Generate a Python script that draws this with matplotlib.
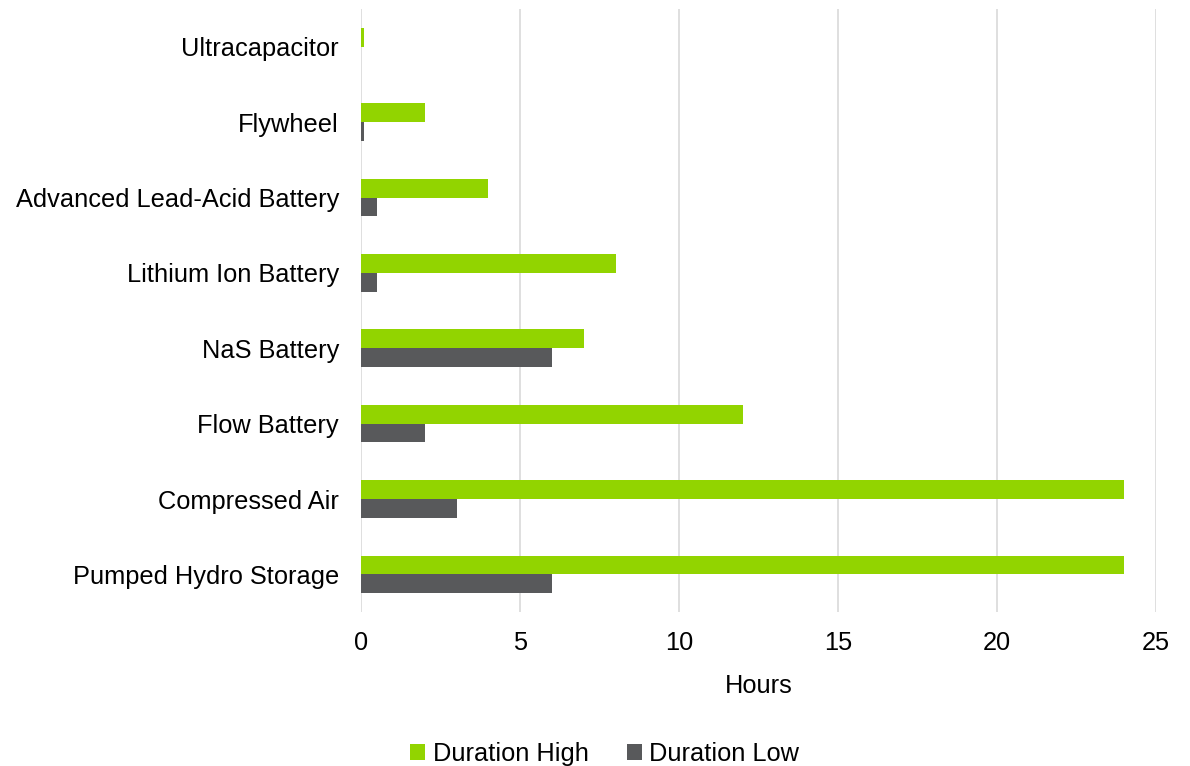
import matplotlib.pyplot as plt
import numpy as np

plt.rcParams['font.family'] = ['Liberation Sans', 'DejaVu Sans']

# data, bottom to top
categories = ['Pumped Hydro Storage', 'Compressed Air', 'Flow Battery', 'NaS Battery',
              'Lithium Ion Battery', 'Advanced Lead-Acid Battery', 'Flywheel', 'Ultracapacitor']
duration_high = [24, 24, 12, 7, 8, 4, 2, 0.1]
duration_low = [6, 3, 2, 6, 0.5, 0.5, 0.1, 0.01]

green = '#92D400'
grey = '#58595B'

fig = plt.figure(figsize=(11.9, 7.66), dpi=100)
ax = fig.add_axes([0.3035, 0.201, 0.668, 0.787])

y = np.arange(len(categories))
h = 0.25
ax.barh(y + h / 2, duration_high, height=h, color=green, label='Duration High', zorder=3)
ax.barh(y - h / 2, duration_low, height=h, color=grey, label='Duration Low', zorder=3)

ax.set_ylim(-0.5, len(categories) - 0.5)
ax.set_xlim(0, 25)
ax.set_xticks([0, 5, 10, 15, 20, 25])
ax.set_yticks(y)
ax.set_yticklabels(categories)
ax.tick_params(axis='both', length=0, labelsize=18.3, colors='black')
ax.tick_params(axis='y', pad=16)
ax.tick_params(axis='x', pad=14)
ax.grid(axis='x', color='#D9D9D9', linewidth=1.2, zorder=0)
for s in ax.spines.values():
    s.set_visible(False)
ax.set_xlabel('Hours', fontsize=18.3, labelpad=13)

fig.legend(loc='center', bbox_to_anchor=(0.508, 0.016),
           ncol=2, frameon=False, fontsize=18.3, handlelength=0.6, handleheight=0.6,
           handletextpad=0.3, columnspacing=1.5)

fig.savefig('out.png')
